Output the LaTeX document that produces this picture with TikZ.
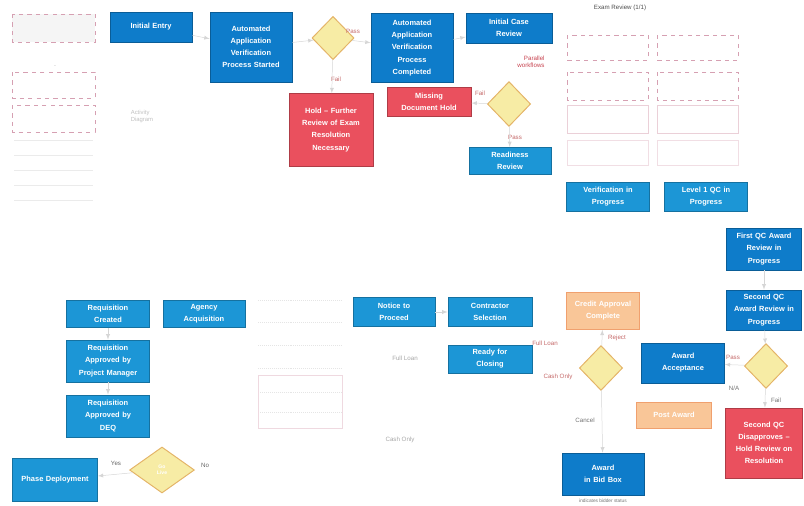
\documentclass[tikz,border=0pt]{standalone}
\usepackage{fontspec}
\setmainfont{Liberation Sans}
\usetikzlibrary{shapes.geometric}
\definecolor{boxblue}{RGB}{14,124,202}
\definecolor{boxcyan}{RGB}{28,150,214}
\definecolor{holdred}{RGB}{234,80,94}
\definecolor{diafill}{RGB}{247,236,165}
\definecolor{diaedge}{RGB}{228,180,104}
\definecolor{paleorange}{RGB}{249,198,152}
\definecolor{paleedge}{RGB}{240,160,110}
\definecolor{palepink}{RGB}{214,160,178}
\definecolor{labelred}{RGB}{196,104,104}

\tikzset{
  box/.style={draw=boxblue!75!black, fill=boxblue, text=white, align=center,
    font=\fontsize{5.3}{8.6}\selectfont\bfseries, inner sep=1pt, line width=0.5pt},
  cbox/.style={box, draw=boxcyan!75!black, fill=boxcyan},
  holdbox/.style={box, draw=holdred!75!black, fill=holdred},
  palebox/.style={box, draw=paleedge, fill=paleorange},
  dia/.style={diamond, draw=diaedge, fill=diafill, line width=0.7pt, inner sep=0pt,
    text=white, font=\fontsize{3.6}{4.2}\selectfont\bfseries, align=center},
  lbl/.style={text=labelred, font=\fontsize{4.4}{5.2}\selectfont},
  ghost/.style={draw=palepink, dashed, line width=0.5pt},
  conn/.style={draw=black!16, line width=0.35pt, -latex},
}

\begin{document}
\begin{tikzpicture}[x=0.025cm, y=-0.025cm]

    \useasboundingbox (0,0) rectangle (804,506);

    % faint sketch areas
    \draw[ghost, fill=black!4] (12,14) rectangle (95,42);
    \draw[ghost] (12,72) rectangle (95,98);
    \draw[ghost] (12,105) rectangle (95,132);
    \foreach \y in {140,155,170,185,200} {
      \draw[black!8] (14,\y) -- (93,\y);
    }
    \node[text=black!35] (dotA) at (55,66) {\tiny .};
    \node[text=black!25, font=\fontsize{4.2}{5}\selectfont, align=left] (actnote) at (142,116) {Activity\\Diagram};

    \node[text=black!70, font=\fontsize{4.4}{5}\selectfont] (examhead) at (620,8) {Exam Review (1/1)};
    \foreach \x in {567,657} {
      \draw[ghost] (\x,35) rectangle (\x+81,60);
      \draw[ghost] (\x,72) rectangle (\x+81,100);
      \draw[palepink!50] (\x,105) rectangle (\x+81,133);
      \draw[palepink!35] (\x,140) rectangle (\x+81,165);
    }

    \foreach \y in {300,322,345,368,392,412} {
      \draw[black!10, densely dotted] (258,\y) -- (342,\y);
    }
    \draw[palepink!40] (258,375) rectangle (342,428);

    % top row
    \node[box, minimum width=2.05cm, minimum height=0.75cm, text width=1.9cm] (initial) at (151,27) {Initial Entry};
    \node[box, minimum width=2.05cm, minimum height=1.75cm, text width=1.95cm] (autostart) at (251,47) {Automated\\Application\\Verification\\Process Started};
    \node[dia, minimum width=1.05cm, minimum height=1.08cm] (dia1) at (333,38) {};
    \node[box, minimum width=2.05cm, minimum height=1.73cm, text width=1.95cm] (autodone) at (412,48) {Automated\\Application\\Verification\\Process\\Completed};
    \node[box, minimum width=2.15cm, minimum height=0.75cm, text width=2cm] (caserev) at (509,28) {Initial Case\\Review};
    \node[holdbox, minimum width=2.1cm, minimum height=1.82cm, text width=2cm] (hold1) at (331,130) {Hold -- Further\\Review of Exam\\Resolution\\Necessary};
    \node[holdbox, minimum width=2.1cm, minimum height=0.72cm, text width=2cm] (missing) at (429,102) {Missing\\Document Hold};
    \node[dia, minimum width=1.08cm, minimum height=1.12cm] (dia2) at (509,104) {};
    \node[cbox, minimum width=2.05cm, minimum height=0.68cm, text width=1.95cm] (readiness) at (510,161) {Readiness\\Review};
    \node[cbox, minimum width=2.07cm, minimum height=0.72cm, text width=1.95cm] (verif) at (608,197) {Verification in\\Progress};
    \node[cbox, minimum width=2.07cm, minimum height=0.72cm, text width=1.95cm] (level1) at (706,197) {Level 1 QC in\\Progress};

    \node[lbl] (pass1) at (353,31) {Pass};
    \node[lbl] (fail1) at (336,79) {Fail};
    \node[lbl] (fail2) at (480,93) {Fail};
    \node[lbl] (pass2) at (515,137) {Pass};
    \node[lbl, text=holdred!85!black, align=right] (parallel) at (531,62) {Parallel\\workflows};

    \draw[conn] (initial) -- (autostart);
    \draw[conn] (autostart) -- (dia1);
    \draw[conn] (dia1) -- (autodone);
    \draw[conn] (dia1) -- (hold1);
    \draw[conn] (autodone) -- (caserev);
    \draw[conn] (dia2) -- (missing);
    \draw[conn] (dia2) -- (readiness);

    % bottom row
    \node[cbox, minimum width=2.07cm, minimum height=0.68cm, text width=1.95cm] (reqcreated) at (108,314) {Requisition\\Created};
    \node[cbox, minimum width=2.07cm, minimum height=1.05cm, text width=1.95cm] (reqpm) at (108,361) {Requisition\\Approved by\\Project Manager};
    \node[cbox, minimum width=2.07cm, minimum height=1.05cm, text width=1.95cm] (reqdeq) at (108,416) {Requisition\\Approved by\\DEQ};
    \node[cbox, minimum width=2.05cm, minimum height=0.68cm, text width=1.95cm] (agency) at (204,314) {Agency\\Acquisition};
    \node[cbox, minimum width=2.12cm, minimum height=1.08cm, text width=2cm] (phase) at (55,480) {Phase Deployment};
    \node[dia, minimum width=1.62cm, minimum height=1.15cm, shape aspect=1.4] (dia3) at (162,470) {Go\\Live};
    \node[lbl, text=black!60] (yes3) at (116,463) {Yes};
    \node[lbl, text=black!60] (no3) at (205,465) {No};

    \node[cbox, minimum width=2.05cm, minimum height=0.72cm, text width=1.95cm] (notice) at (394,312) {Notice to\\Proceed};
    \node[cbox, minimum width=2.1cm, minimum height=0.72cm, text width=2cm] (contractor) at (490,312) {Contractor\\Selection};
    \node[cbox, minimum width=2.1cm, minimum height=0.7cm, text width=2cm] (ready) at (490,359) {Ready for\\Closing};
    \node[lbl, text=black!35] (fullnote) at (405,358) {Full Loan};
    \node[lbl, text=black!35] (cashnote) at (400,440) {Cash Only};

    \node[palebox, minimum width=1.82cm, minimum height=0.92cm, text width=1.75cm] (credit) at (603,311) {Credit Approval\\Complete};
    \node[dia, minimum width=1.08cm, minimum height=1.12cm] (dia4) at (601,368) {};
    \node[lbl] (reject4) at (617,338) {Reject};
    \node[lbl] (full4) at (545,343) {Full Loan};
    \node[lbl] (cash4) at (558,377) {Cash Only};
    \node[lbl, text=black!55] (cancel4) at (585,420) {Cancel};
    \node[box, minimum width=2.05cm, minimum height=1.05cm, text width=1.95cm] (awardbid) at (603,474) {Award\\in Bid Box};
    \node[text=black!55, font=\fontsize{3.4}{4}\selectfont] (bidnote) at (603,501) {indicates bidder status};

    \node[box, minimum width=2.07cm, minimum height=1cm, text width=1.95cm] (awardacc) at (683,363) {Award\\Acceptance};
    \node[palebox, minimum width=1.87cm, minimum height=0.65cm, text width=1.75cm] (postaward) at (674,415) {Post Award};
    \node[dia, minimum width=1.08cm, minimum height=1.12cm] (dia5) at (766,366) {};
    \node[lbl] (pass5) at (733,357) {Pass};
    \node[lbl, text=black!55] (na5) at (734,388) {N/A};
    \node[lbl, text=black!55] (fail5) at (776,400) {Fail};

    \node[box, minimum width=1.85cm, minimum height=1.05cm, text width=1.8cm] (firstqc) at (764,249) {First QC Award\\Review in\\Progress};
    \node[box, minimum width=1.85cm, minimum height=1cm, text width=1.8cm] (secondqc) at (764,310) {Second QC\\Award Review in\\Progress};
    \node[holdbox, minimum width=1.92cm, minimum height=1.75cm, text width=1.85cm] (qcdisapp) at (764,443) {Second QC\\Disapproves --\\Hold Review on\\Resolution};

    \draw[conn] (reqcreated) -- (reqpm);
    \draw[conn] (reqpm) -- (reqdeq);
    \draw[conn] (dia3) -- (phase);
    \draw[conn] (notice) -- (contractor);
    \draw[conn] (dia4) -- (credit);
    \draw[conn] (dia4) -- (awardbid);
    \draw[conn] (firstqc) -- (secondqc);
    \draw[conn] (secondqc) -- (dia5);
    \draw[conn] (dia5) -- (awardacc);
    \draw[conn] (dia5) -- (qcdisapp);

  \end{tikzpicture}
\end{document}
